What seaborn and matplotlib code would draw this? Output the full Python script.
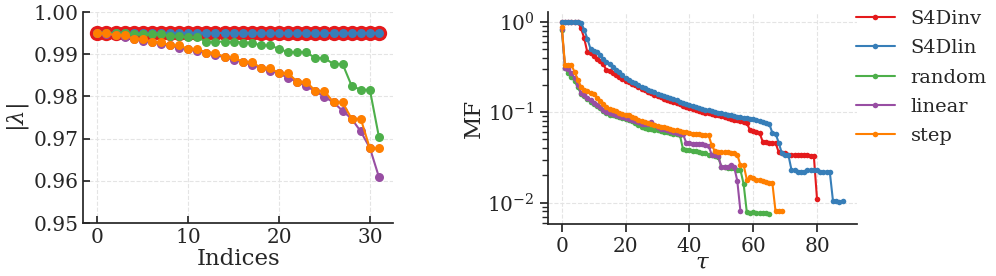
import numpy as np
import pandas as pd
import seaborn as sns
import matplotlib.pyplot as plt
from matplotlib.ticker import FormatStrFormatter

# colours (Set1)
colors = {
    'S4Dinv': '#e41a1c',
    'S4Dlin': '#377eb8',
    'random': '#4daf4a',
    'linear': '#984ea3',
    'step': '#ff7f00',
}
names = ['S4Dinv', 'S4Dlin', 'random', 'linear', 'step']

# left panel: |lambda| per index
lam_s4dinv = [0.995] * 32
lam_s4dlin = [0.995] * 32
lam_random = [0.995, 0.995, 0.995, 0.995, 0.9948, 0.9948, 0.9947, 0.9947, 0.9943, 0.9943,
              0.994, 0.994, 0.993, 0.993, 0.993, 0.993, 0.9928, 0.9928, 0.9921, 0.9921,
              0.9913, 0.9905, 0.9905, 0.9905, 0.9891, 0.9891, 0.9877, 0.9877, 0.9825, 0.9816,
              0.9816, 0.9704]
lam_linear = [0.995, 0.9948, 0.9945, 0.9941, 0.9937, 0.9932, 0.9929, 0.9925, 0.9921, 0.9916,
              0.9913, 0.9908, 0.9904, 0.9898, 0.9893, 0.9887, 0.9882, 0.9875, 0.9868, 0.9861,
              0.9855, 0.9844, 0.9835, 0.9824, 0.9813, 0.9799, 0.9786, 0.9766, 0.9747, 0.9717,
              0.9678, 0.9609]
lam_step = [0.995, 0.995, 0.9945, 0.9945, 0.9937, 0.9937, 0.9929, 0.9929, 0.9921, 0.9921,
            0.9913, 0.9913, 0.9904, 0.9904, 0.9893, 0.9893, 0.9882, 0.9882, 0.9868, 0.9868,
            0.9855, 0.9855, 0.9835, 0.9835, 0.9813, 0.9813, 0.9786, 0.9786, 0.9747, 0.9747,
            0.9677, 0.9677]

# right panel: MF vs tau
mf_s4dinv = [1.0, 1.0, 1.0, 1.0, 1.0, 1.0, 0.85, 0.66, 0.46, 0.45,
             0.42, 0.39, 0.37, 0.34, 0.29, 0.285, 0.27, 0.255, 0.245, 0.235,
             0.224, 0.215, 0.207, 0.198, 0.19, 0.182, 0.175, 0.168, 0.162, 0.156,
             0.150, 0.146, 0.141, 0.137, 0.133, 0.129, 0.125, 0.122, 0.118, 0.115,
             0.112, 0.109, 0.106, 0.104, 0.101, 0.099, 0.097, 0.095, 0.093, 0.092,
             0.090, 0.088, 0.087, 0.085, 0.083, 0.081, 0.079, 0.078, 0.076, 0.063,
             0.062, 0.061, 0.059, 0.047, 0.047, 0.046, 0.046, 0.046, 0.036, 0.035,
             0.035, 0.034, 0.034, 0.034, 0.034, 0.034, 0.034, 0.034, 0.033, 0.033,
             0.011]
mf_s4dlin = [1.0, 1.0, 1.0, 1.0, 1.0, 1.0, 0.97, 0.82, 0.65, 0.50,
             0.48, 0.46, 0.43, 0.39, 0.36, 0.34, 0.315, 0.295, 0.275, 0.255,
             0.238, 0.228, 0.218, 0.208, 0.198, 0.19, 0.183, 0.177, 0.171, 0.166,
             0.161, 0.156, 0.152, 0.147, 0.143, 0.139, 0.135, 0.131, 0.127, 0.123,
             0.120, 0.117, 0.114, 0.111, 0.109, 0.107, 0.105, 0.103, 0.101, 0.099,
             0.097, 0.095, 0.094, 0.092, 0.091, 0.089, 0.088, 0.087, 0.086, 0.085,
             0.084, 0.082, 0.080, 0.078, 0.076, 0.075, 0.059, 0.058, 0.046, 0.035,
             0.034, 0.034, 0.023, 0.023, 0.022, 0.022, 0.022, 0.023, 0.023, 0.023,
             0.023, 0.022, 0.022, 0.022, 0.022, 0.0105, 0.0103, 0.0101, 0.0105]
mf_random = [0.82, 0.31, 0.27, 0.245, 0.22, 0.19, 0.16, 0.15, 0.14, 0.13,
             0.124, 0.117, 0.11, 0.103, 0.097, 0.094, 0.092, 0.09, 0.088, 0.086,
             0.084, 0.082, 0.079, 0.076, 0.072, 0.069, 0.067, 0.066, 0.065, 0.064,
             0.063, 0.062, 0.061, 0.060, 0.059, 0.058, 0.057, 0.056, 0.039, 0.038,
             0.038, 0.037, 0.037, 0.036, 0.035, 0.035, 0.034, 0.034, 0.033, 0.032,
             0.025, 0.025, 0.024, 0.024, 0.024, 0.023, 0.023, 0.016, 0.0078, 0.0077,
             0.0078, 0.0077, 0.0077, 0.0076, 0.0077, 0.0074]
mf_linear = [0.84, 0.31, 0.30, 0.27, 0.24, 0.20, 0.165, 0.155, 0.145, 0.135,
             0.128, 0.12, 0.113, 0.107, 0.101, 0.098, 0.095, 0.093, 0.091, 0.089,
             0.087, 0.085, 0.083, 0.080, 0.077, 0.075, 0.074, 0.074, 0.077, 0.072,
             0.068, 0.066, 0.065, 0.064, 0.062, 0.061, 0.059, 0.058, 0.057, 0.046,
             0.046, 0.045, 0.045, 0.044, 0.044, 0.043, 0.042, 0.034, 0.034, 0.033,
             0.025, 0.025, 0.025, 0.026, 0.025, 0.0175, 0.008]
mf_step = [0.88, 0.33, 0.33, 0.33, 0.28, 0.23, 0.19, 0.178, 0.172, 0.165,
           0.157, 0.145, 0.132, 0.122, 0.113, 0.108, 0.105, 0.102, 0.099, 0.096,
           0.094, 0.092, 0.089, 0.086, 0.083, 0.080, 0.078, 0.076, 0.074, 0.072,
           0.070, 0.069, 0.068, 0.067, 0.066, 0.064, 0.063, 0.062, 0.061, 0.060,
           0.059, 0.058, 0.058, 0.057, 0.056, 0.056, 0.056, 0.043, 0.037, 0.036,
           0.036, 0.036, 0.036, 0.035, 0.035, 0.034, 0.026, 0.026, 0.018, 0.019,
           0.0185, 0.018, 0.018, 0.0175, 0.017, 0.0165, 0.0165, 0.008, 0.008, 0.008]

lam_data = dict(zip(names, [lam_s4dinv, lam_s4dlin, lam_random, lam_linear, lam_step]))
mf_data = dict(zip(names, [mf_s4dinv, mf_s4dlin, mf_random, mf_linear, mf_step]))
lam_msize = {'S4Dinv': 11, 'S4Dlin': 6.5, 'random': 6.5, 'linear': 6.5, 'step': 6.5}

sns.set_theme(style="ticks")
plt.rcParams['font.family'] = ['DejaVu Serif']
plt.rcParams['mathtext.fontset'] = 'dejavuserif'

fig = plt.figure(figsize=(9.96, 2.76), dpi=100)
ax1 = fig.add_axes([0.0836, 0.192, 0.311, 0.764])
ax2 = fig.add_axes([0.550, 0.188, 0.310, 0.768])

for name in names:
    df = pd.DataFrame({'idx': np.arange(len(lam_data[name])), 'lam': lam_data[name]})
    sns.lineplot(data=df, x='idx', y='lam', color=colors[name], marker='o',
                 markersize=lam_msize[name], markeredgewidth=0, linewidth=1.5, ax=ax1)

ax1.set_ylim(0.95, 1.0)
ax1.set_yticks(np.arange(0.95, 1.001, 0.01))
ax1.yaxis.set_major_formatter(FormatStrFormatter('%.2f'))
ax1.set_xticks([0, 10, 20, 30])
ax1.set_xlabel('Indices', fontsize=16.5, labelpad=1)
ax1.set_ylabel(r'$|\lambda|$', fontsize=16.5, labelpad=2)
ax1.tick_params(direction='in', labelsize=14.5, length=5)

for name in names:
    df = pd.DataFrame({'tau': np.arange(len(mf_data[name])), 'mf': mf_data[name]})
    sns.lineplot(data=df, x='tau', y='mf', color=colors[name], marker='o',
                 markersize=4, markeredgewidth=0, linewidth=1.5, label=name, ax=ax2)

ax2.set_yscale('log')
ax2.set_xticks([0, 20, 40, 60, 80])
ax2.set_xlabel(r'$\tau$', fontsize=16.5, labelpad=-3)
ax2.set_ylabel('MF', fontsize=16.5, labelpad=2)
ax2.tick_params(which='both', direction='out', labelsize=14.5)

for ax in (ax1, ax2):
    ax.grid(True, which='major', linestyle='--', color='#e4e4e4', linewidth=0.8)
    sns.despine(ax=ax)

ax2.legend(loc='upper left', bbox_to_anchor=(0.997, 1.01), frameon=False, fontsize=14,
           borderpad=0, borderaxespad=0, handlelength=2.0, labelspacing=0.58,
           handletextpad=0.83)

fig.savefig('out.png', dpi=100)
